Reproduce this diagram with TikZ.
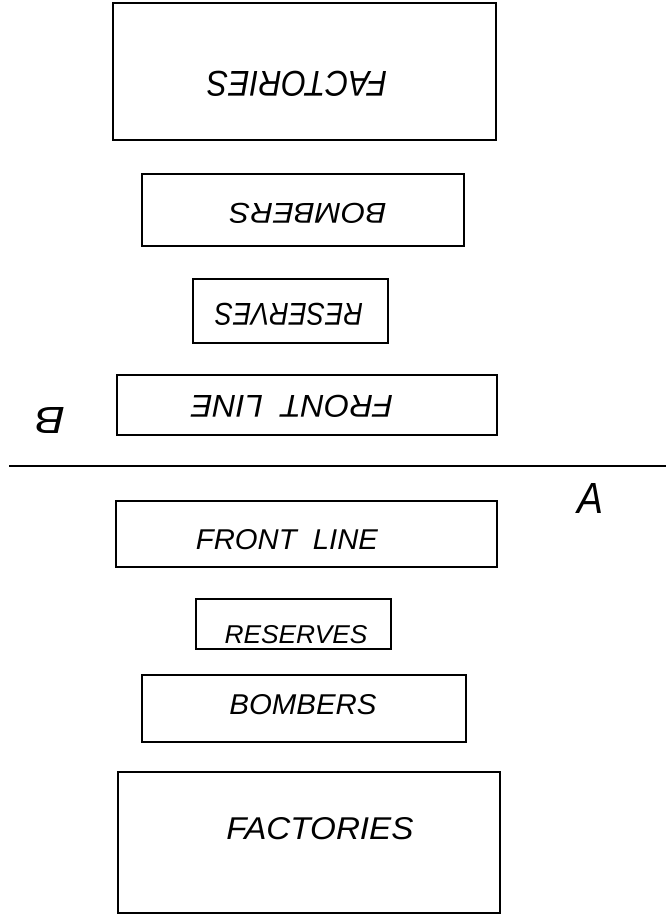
\documentclass[tikz,border=0pt]{standalone}
\usepackage{fontspec}
\usepackage{graphicx}
\setmainfont{Liberation Sans}
\newfontfamily\letterfont{Liberation Sans}[ItalicFont=* Italic]
% lettering scaled to a given width and cap height
\newcommand{\fitword}[3]{\resizebox{#1pt}{#2pt}{\letterfont\itshape #3}}
\tikzset{
  panel/.style={draw, line width=2.6pt, inner sep=0pt, outer sep=0pt},
  word/.style={inner sep=0pt, outer sep=0pt, anchor=center},
  flipword/.style={word, rotate=180},
}
\begin{document}
\begin{tikzpicture}[x=1pt,y=-1pt]
  \useasboundingbox (0,0) rectangle (666,915);

  % upper half, drawn upside down
  \node[panel, minimum width=383pt, minimum height=137pt] (tf) at (304.5,71.5) {};
  \node[panel, minimum width=322pt, minimum height=72pt]  (tb) at (303,210) {};
  \node[panel, minimum width=195pt, minimum height=64pt]  (tr) at (290.5,311) {};
  \node[panel, minimum width=380pt, minimum height=60pt]  (tl) at (307,405) {};

  \node[flipword] (tft) at (297,84)  {\fitword{180}{25}{FACTORIES}};
  \node[flipword] (tbt) at (308,213) {\fitword{157}{20}{BOMBERS}};
  \node[flipword] (trt) at (289,314) {\fitword{148}{22}{RESERVES}};
  \node[flipword] (tlt) at (292,406) {\fitword{202}{22}{FRONT\ \ LINE}};
  \node[flipword] (lb)  at (50,420)  {\fitword{30}{26}{B}};

  % dividing line
  \coordinate (d1) at (9,466);
  \coordinate (d2) at (666,466);
  \draw[line width=2.6pt] (d1) -- (d2);
  \node[word] (la) at (590,498) {\resizebox{26pt}{30pt}{\letterfont\itshape A}};

  % lower half
  \node[panel, minimum width=381pt, minimum height=66pt]  (bl) at (306.5,534) {};
  \node[panel, minimum width=195pt, minimum height=50pt]  (br) at (293.5,624) {};
  \node[panel, minimum width=324pt, minimum height=67pt]  (bb) at (304,708.5) {};
  \node[panel, minimum width=382pt, minimum height=141pt] (bf) at (309,842.5) {};

  \node[word] (blt) at (287,540) {\fitword{182}{20}{FRONT\ \ LINE}};
  \node[word] (brt) at (296,635) {\fitword{143}{18}{RESERVES}};
  \node[word] (bbt) at (303,705) {\fitword{147}{20}{BOMBERS}};
  \node[word] (bft) at (320,829) {\fitword{187}{22}{FACTORIES}};
\end{tikzpicture}
\end{document}
